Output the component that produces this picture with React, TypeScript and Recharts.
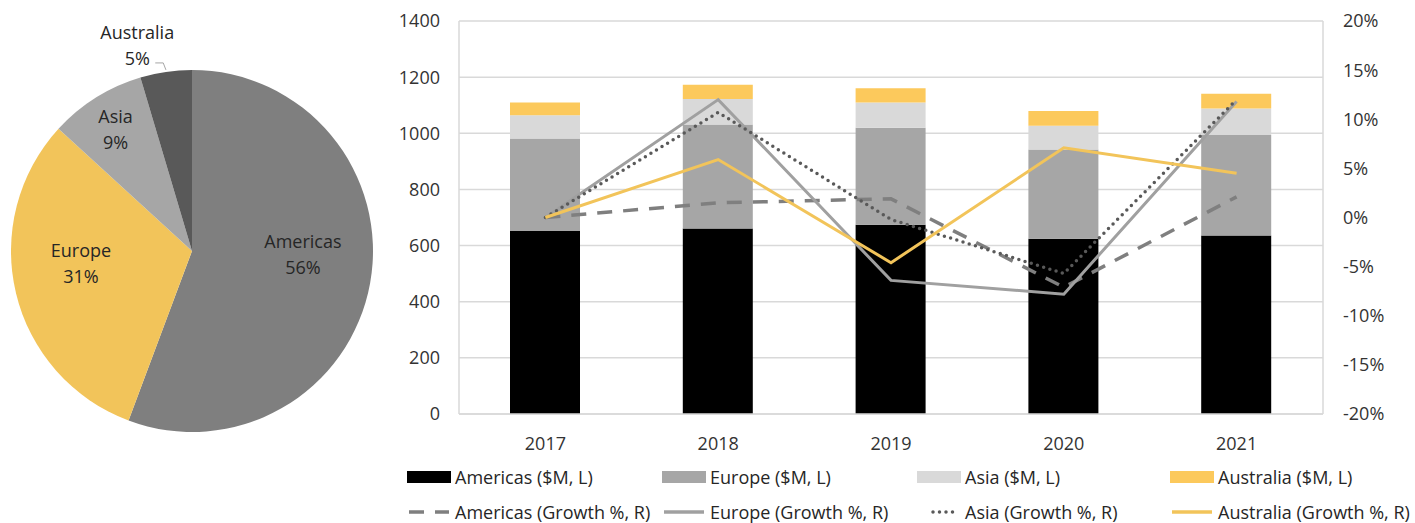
import {
  ComposedChart, Bar, Line, XAxis, YAxis, CartesianGrid, Legend,
  PieChart, Pie, Cell,
} from 'recharts'

const years = ['2017', '2018', '2019', '2020', '2021']

// revenue, $M (left axis)
const americasRev = [652, 661, 674, 624, 636]
const europeRev = [329, 370, 346, 318, 358]
const asiaRev = [83, 91, 90, 85, 94]
const australiaRev = [46, 51, 50, 52, 53]

// growth, % (right axis)
const americasGrowth = [0, 1.5, 1.9, -7.1, 2.1]
const europeGrowth = [0, 12.0, -6.4, -7.8, 11.8]
const asiaGrowth = [0, 10.7, -0.2, -5.7, 12.0]
const australiaGrowth = [0, 5.9, -4.6, 7.1, 4.5]

// pie shares
const regions = ['Americas', 'Europe', 'Asia', 'Australia']
const regionShare = [55.7, 31.1, 8.6, 4.6]

const leftTicks = [0, 200, 400, 600, 800, 1000, 1200, 1400]
const rightTicks = [-20, -15, -10, -5, 0, 5, 10, 15, 20]

const FONT = '"Open Sans", sans-serif'
const TEXT = '#262626'
const GRID = '#d9d9d9'

const pieColors = ['#7f7f7f', '#f2c45a', '#a6a6a6', '#595959']
const barColors = ['#000000', '#a6a6a6', '#d9d9d9', '#fcc95c']
const lineColors = ['#7f7f7f', '#a0a0a0', '#595959', '#f2c45a']

const tableData = years.map((year, i) => ({
  year,
  americasRev: americasRev[i],
  europeRev: europeRev[i],
  asiaRev: asiaRev[i],
  australiaRev: australiaRev[i],
  americasGrowth: americasGrowth[i],
  europeGrowth: europeGrowth[i],
  asiaGrowth: asiaGrowth[i],
  australiaGrowth: australiaGrowth[i],
}))

const pieData = regions.map((name, i) => ({ name, value: regionShare[i] }))

// label placement tweaks (radius fraction, angle shift in degrees)
const labelTweak = [
  { rf: 0.613, da: 8.8 },
  { rf: 0.617, da: -7.3 },
  { rf: 0.796, da: 0 },
  { rf: 1.178, da: 6.6 },
]

const RAD = Math.PI / 180

function renderPieLabel(props: any) {
  const { cx, cy, midAngle, outerRadius, percent, name, index } = props
  const t = labelTweak[index]
  const a = (midAngle + t.da) * RAD
  const x = cx + outerRadius * t.rf * Math.cos(-a)
  const y = cy + outerRadius * t.rf * Math.sin(-a)
  const pct = Math.round(percent * 100) + '%'
  let leader = null
  if (index === 3) {
    const ex = cx + outerRadius * Math.cos(-midAngle * RAD)
    const ey = cy + outerRadius * Math.sin(-midAngle * RAD)
    leader = (
      <path
        d={`M${x + 18},${y + 18} H${x + 26} L${ex},${ey - 2}`}
        stroke="#a6a6a6"
        fill="none"
        strokeWidth={1}
      />
    )
  }
  return (
    <g>
      {leader}
      <text
        x={x}
        y={y}
        textAnchor="middle"
        fontFamily={FONT}
        fontSize={18}
        fill={TEXT}
      >
        <tspan x={x} y={y - 13} dominantBaseline="central">{name}</tspan>
        <tspan x={x} y={y + 13} dominantBaseline="central">{pct}</tspan>
      </text>
    </g>
  )
}

const legendCols = [27, 282, 537, 790]
const dashes = ['15 11', undefined, '0 6.5', undefined]

function ChartLegend() {
  const row = (top: number, children: any, left: number, key: string) => (
    <div
      key={key}
      style={{
        position: 'absolute', left, top: top - 13, height: 26,
        display: 'flex', alignItems: 'center', whiteSpace: 'nowrap',
      }}
    >
      {children}
    </div>
  )
  return (
    <div style={{ position: 'relative', width: 1035, height: 79, fontFamily: FONT, fontSize: 18, color: TEXT }}>
      {regions.map((r, i) =>
        row(33, (
          <>
            <svg width={44} height={12}><rect x={0} y={0} width={44} height={12} fill={barColors[i]} /></svg>
            <span style={{ marginLeft: 4 }}>{r} ($M, L)</span>
          </>
        ), legendCols[i], 'b' + i)
      )}
      {regions.map((r, i) =>
        row(68, (
          <>
            <svg width={44} height={12}>
              <line
                x1={i === 2 ? 16 : 2} y1={6} x2={42} y2={6}
                stroke={lineColors[i]}
                strokeWidth={3.5}
                strokeDasharray={dashes[i]}
                strokeLinecap={i === 2 ? 'round' : 'butt'}
              />
            </svg>
            <span style={{ marginLeft: 4 }}>{r} (Growth %, R)</span>
          </>
        ), legendCols[i], 'l' + i)
      )}
    </div>
  )
}

const tick = { fontFamily: FONT, fontSize: 18, fill: '#333333' }

export default function App() {
  return (
    <div style={{ position: 'absolute', left: 0, top: 0, width: 1415, height: 523, background: '#fff' }}>
      <div style={{ position: 'absolute', left: 0, top: 0 }}>
        <PieChart width={400} height={523} margin={{ top: 0, right: 0, bottom: 0, left: 0 }}>
          <Pie
            data={pieData}
            dataKey="value"
            nameKey="name"
            cx={192}
            cy={251}
            outerRadius={181}
            startAngle={90}
            endAngle={-270}
            stroke="none"
            label={renderPieLabel}
            labelLine={false}
            isAnimationActive={false}
          >
            {pieData.map((d, i) => (
              <Cell key={d.name} fill={pieColors[i]} />
            ))}
          </Pie>
        </PieChart>
      </div>
      <div style={{ position: 'absolute', left: 380, top: 0 }}>
        <ComposedChart
          width={1035}
          height={523}
          data={tableData}
          margin={{ top: 21, right: 0, bottom: 0, left: 0 }}
        >
          <CartesianGrid yAxisId="left" vertical={false} stroke={GRID} strokeWidth={1.5} />
          <XAxis
            dataKey="year"
            height={30}
            tickLine={false}
            tickSize={0}
            tickMargin={23}
            axisLine={{ stroke: GRID, strokeWidth: 1.5 }}
            tick={tick}
          />
          <YAxis
            yAxisId="left"
            width={79}
            domain={[0, 1400]}
            ticks={leftTicks}
            tickLine={false}
            tickSize={0}
            tickMargin={19}
            axisLine={{ stroke: GRID, strokeWidth: 1.5 }}
            tick={tick}
          />
          <YAxis
            yAxisId="right"
            orientation="right"
            width={92}
            domain={[-20, 20]}
            ticks={rightTicks}
            tickFormatter={(v: number) => `${v}%`}
            tickLine={false}
            tickSize={0}
            tickMargin={20}
            axisLine={{ stroke: GRID, strokeWidth: 1.5 }}
            tick={tick}
          />
          <Bar yAxisId="left" dataKey="americasRev" stackId="rev" fill={barColors[0]} barSize={70} isAnimationActive={false} />
          <Bar yAxisId="left" dataKey="europeRev" stackId="rev" fill={barColors[1]} barSize={70} isAnimationActive={false} />
          <Bar yAxisId="left" dataKey="asiaRev" stackId="rev" fill={barColors[2]} barSize={70} isAnimationActive={false} />
          <Bar yAxisId="left" dataKey="australiaRev" stackId="rev" fill={barColors[3]} barSize={70} isAnimationActive={false} />
          <Line yAxisId="right" type="linear" dataKey="americasGrowth" stroke={lineColors[0]} strokeWidth={3.5} strokeDasharray="15 11" dot={false} isAnimationActive={false} />
          <Line yAxisId="right" type="linear" dataKey="europeGrowth" stroke={lineColors[1]} strokeWidth={3} dot={false} isAnimationActive={false} />
          <Line yAxisId="right" type="linear" dataKey="asiaGrowth" stroke={lineColors[2]} strokeWidth={3.5} strokeDasharray="0 6.5" strokeLinecap="round" dot={false} isAnimationActive={false} />
          <Line yAxisId="right" type="linear" dataKey="australiaGrowth" stroke={lineColors[3]} strokeWidth={3} dot={false} isAnimationActive={false} />
          <Legend
            verticalAlign="bottom"
            content={() => <ChartLegend />}
            wrapperStyle={{ left: 0, top: 444, width: 1035, height: 79 }}
          />
        </ComposedChart>
      </div>
    </div>
  )
}
